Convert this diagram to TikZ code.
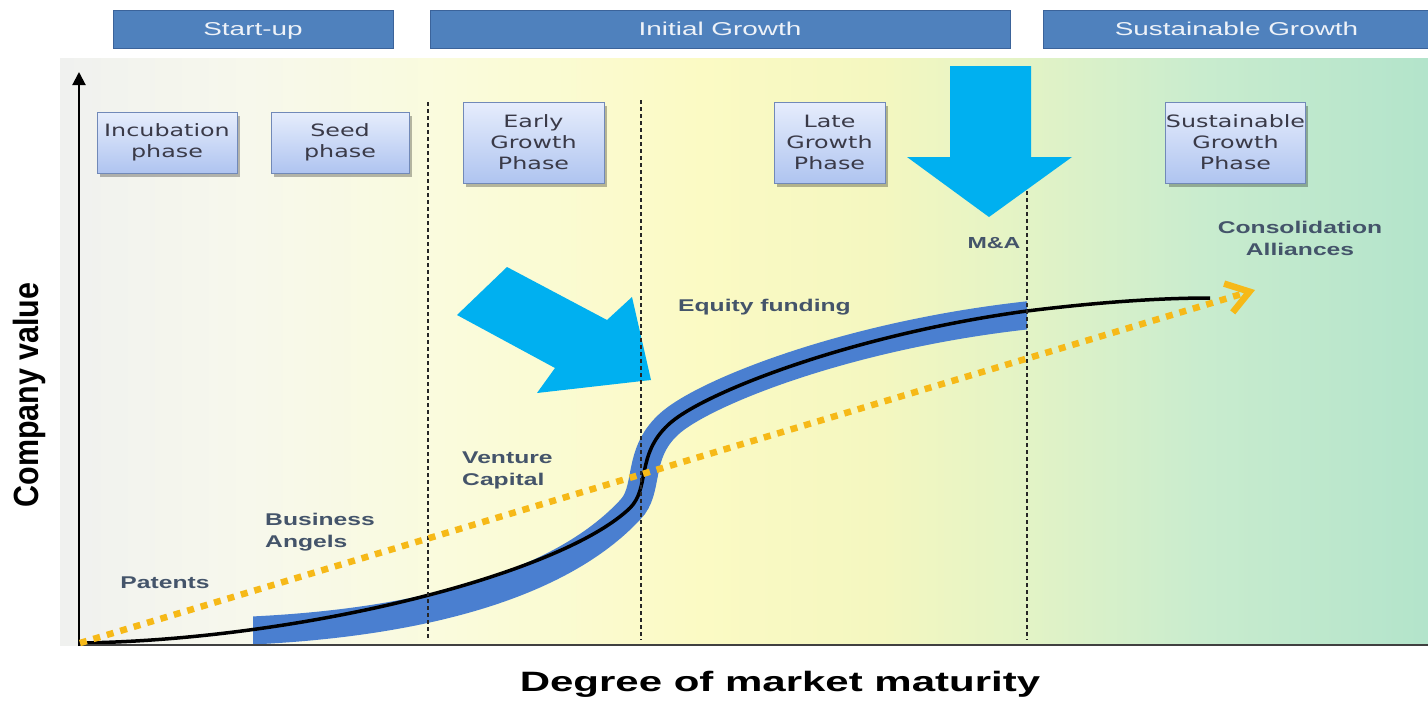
\documentclass[tikz,border=0pt]{standalone}
\usepackage{fontspec}
\setmainfont{Liberation Sans}
\newfontfamily\hdrfont[FakeStretch=1.5]{Liberation Sans}
\newfontfamily\lblfont[FakeStretch=1.45]{Liberation Sans}
\newfontfamily\boxfont[FakeStretch=1.4]{DejaVu Sans}
\newfontfamily\axfont[FakeStretch=1.5]{Liberation Sans}
\newfontfamily\yaxfont[FakeStretch=0.87]{Liberation Sans}
\usetikzlibrary{arrows.meta,shadows}
\definecolor{hdrblue}{HTML}{4F81BD}
\definecolor{hdrborder}{HTML}{3B639A}
\definecolor{hdrtext}{HTML}{EEF2F8}
\definecolor{arrowcyan}{HTML}{00B0F0}
\definecolor{bandblue}{HTML}{4A7FD0}
\definecolor{lblcol}{HTML}{44546A}
\definecolor{dotyellow}{HTML}{F6B918}
\definecolor{boxtop}{HTML}{E6EDFC}
\definecolor{boxbot}{HTML}{AFC4F0}
\definecolor{boxborder}{HTML}{7189B8}
\definecolor{boxtext}{HTML}{3A3A48}
\definecolor{bg0}{HTML}{F0F1EF}
\definecolor{bg1}{HTML}{F7F8EC}
\definecolor{bg2}{HTML}{FAFBDC}
\definecolor{bg3}{HTML}{FBFAC4}
\definecolor{bg4}{HTML}{F4F7C0}
\definecolor{bg5}{HTML}{E2F3C6}
\definecolor{bg6}{HTML}{C9ECCE}
\definecolor{bg7}{HTML}{B3E4CB}
\pgfdeclarehorizontalshading{bgshade}{100bp}{color(0bp)=(bg0); color(25bp)=(bg0); color(31.9bp)=(bg1); color(39.3bp)=(bg2); color(48.4bp)=(bg3); color(55bp)=(bg4); color(60.5bp)=(bg5); color(66.7bp)=(bg6); color(75bp)=(bg7); color(100bp)=(bg7)}
\tikzset{
  hdrbar/.style={draw=hdrborder, line width=1pt, fill=hdrblue, text=hdrtext, inner sep=0pt, minimum height=38pt, text height=13.5pt, text depth=0pt, font=\hdrfont\fontsize{18.6pt}{22pt}\selectfont},
  phasebox/.style={draw=boxborder, line width=1pt, top color=boxtop, bottom color=boxbot, align=center, inner sep=0pt, text=boxtext, font=\boxfont\fontsize{17pt}{21pt}\selectfont},
  boxshadow/.style={fill=black, opacity=0.28},
  lbl/.style={text=lblcol, inner sep=0pt, font=\lblfont\bfseries\fontsize{17pt}{22pt}\selectfont},
  phaseline/.style={black!85, line width=1.3pt, dash pattern=on 4pt off 3pt},
  bigarrow/.style={fill=arrowcyan},
}
\begin{document}
\begin{tikzpicture}[x=1pt,y=-1pt]
\useasboundingbox (0,0) rectangle (1428,702);
\fill[white] (0,0) rectangle (1428,702);
\fill[shading=bgshade] (60,58) rectangle (1428,645);

% header bars
\node[hdrbar, minimum width=280pt] (startup) at (253,29) {Start-up};
\node[hdrbar, minimum width=580pt] (initial) at (720,29) {Initial Growth};
\node[hdrbar, minimum width=387pt] (sustain) at (1236.5,29) {Sustainable Growth};

% phase boundary at M&A (behind arrow)
\coordinate (d3top) at (1027,100);
\coordinate (d3bot) at (1027,640);

% blue band
\begin{scope}
\clip (253,0) rectangle (1027,700);
\draw[bandblue, line width=28pt] (240,631) .. controls (420,624) and (560,585) .. (630,510) .. controls (650,490) and (636,455) .. (668,425) .. controls (700,394) and (850,333) .. (1040,314);
\end{scope}

% black S-curve
\coordinate (c0) at (80,643);
\coordinate (c1) at (630,508);
\coordinate (c2) at (668,425);
\coordinate (c3) at (1027,311);
\coordinate (c4) at (1210,298);
\draw[black, line width=3.5pt] (c0) .. controls (300,640) and (560,575) .. (c1) .. controls (650,488) and (636,455) .. (c2) .. controls (700,394) and (850,335) .. (c3) .. controls (1100,302) and (1160,298) .. (c4);

\draw[phaseline] (d3top) -- (d3bot);

% cyan arrows
\fill[bigarrow] (950,66) -- (1031,66) -- (1031,157) -- (1072,157) -- (989,217) -- (907,157) -- (950,157) -- cycle;
\fill[bigarrow] (507,267) -- (607,320) -- (632,297) -- (651,380) -- (537,393) -- (555,368) -- (457,315) -- cycle;

% dashed phase lines
\coordinate (d1top) at (428,102);
\coordinate (d1bot) at (428,640);
\coordinate (d2top) at (641,100);
\coordinate (d2bot) at (641,640);
\draw[phaseline] (d1top) -- (d1bot);
\draw[phaseline] (d2top) -- (d2bot);

% axes
\coordinate (origin) at (79,645);
\coordinate (xend) at (1428,645);
\coordinate (ytop) at (79,72);
\draw[black!75, line width=1.5pt] (origin) -- (xend);
\draw[black, line width=2pt, -{Triangle[length=13pt,width=13pt]}] (79,646) -- (ytop);

% yellow dotted trend arrow
\coordinate (ystart) at (80,643);
\coordinate (yend) at (1255,290);
\draw[dotyellow, line width=6.5pt, dash pattern=on 7pt off 7pt, -{Straight Barb[length=22pt,width=30pt]}] (ystart) -- (yend);

% phase boxes
\foreach \cx/\cy/\w/\h in {167/142.5/140/61, 340/142.5/138/61, 533.5/142.5/141/81, 829.5/142.5/111/81, 1235.5/142.5/139/81}
  \fill[boxshadow] (\cx-\w/2+3,\cy-\h/2+4) rectangle (\cx+\w/2+3,\cy+\h/2+4);
\node[phasebox, minimum width=140pt, minimum height=61pt] (incub) at (167,142.5) {Incubation\\phase};
\node[phasebox, minimum width=138pt, minimum height=61pt] (seed) at (340,142.5) {Seed\\phase};
\node[phasebox, minimum width=141pt, minimum height=81pt] (early) at (533.5,142.5) {Early\\Growth\\Phase};
\node[phasebox, minimum width=111pt, minimum height=81pt] (late) at (829.5,142.5) {Late\\Growth\\Phase};
\node[phasebox, minimum width=139pt, minimum height=81pt] (sgp) at (1235.5,142.5) {Sustainable\\Growth\\Phase};

% labels
\node[lbl] (patents) at (165,583) {Patents};
\node[lbl, anchor=west, align=left] (angels) at (265,532) {Business\\Angels};
\node[lbl, anchor=west, align=left] (venture) at (462,470) {Venture\\Capital};
\node[lbl, anchor=west] (equity) at (678,307) {Equity funding};
\node[lbl, font=\lblfont\bfseries\fontsize{16pt}{20pt}\selectfont] (ma) at (994,243) {M\&A};
\node[lbl, align=center] (consol) at (1300,238) {Consolidation\\Alliances};

% axis titles
\node[inner sep=0pt, font=\axfont\bfseries\fontsize{28pt}{32pt}\selectfont] (xlabel) at (780,684) {Degree of market maturity};
\node[inner sep=0pt, rotate=90, font=\yaxfont\bfseries\fontsize{35pt}{40pt}\selectfont] (ylabel) at (29,395) {Company value};
\end{tikzpicture}
\end{document}
